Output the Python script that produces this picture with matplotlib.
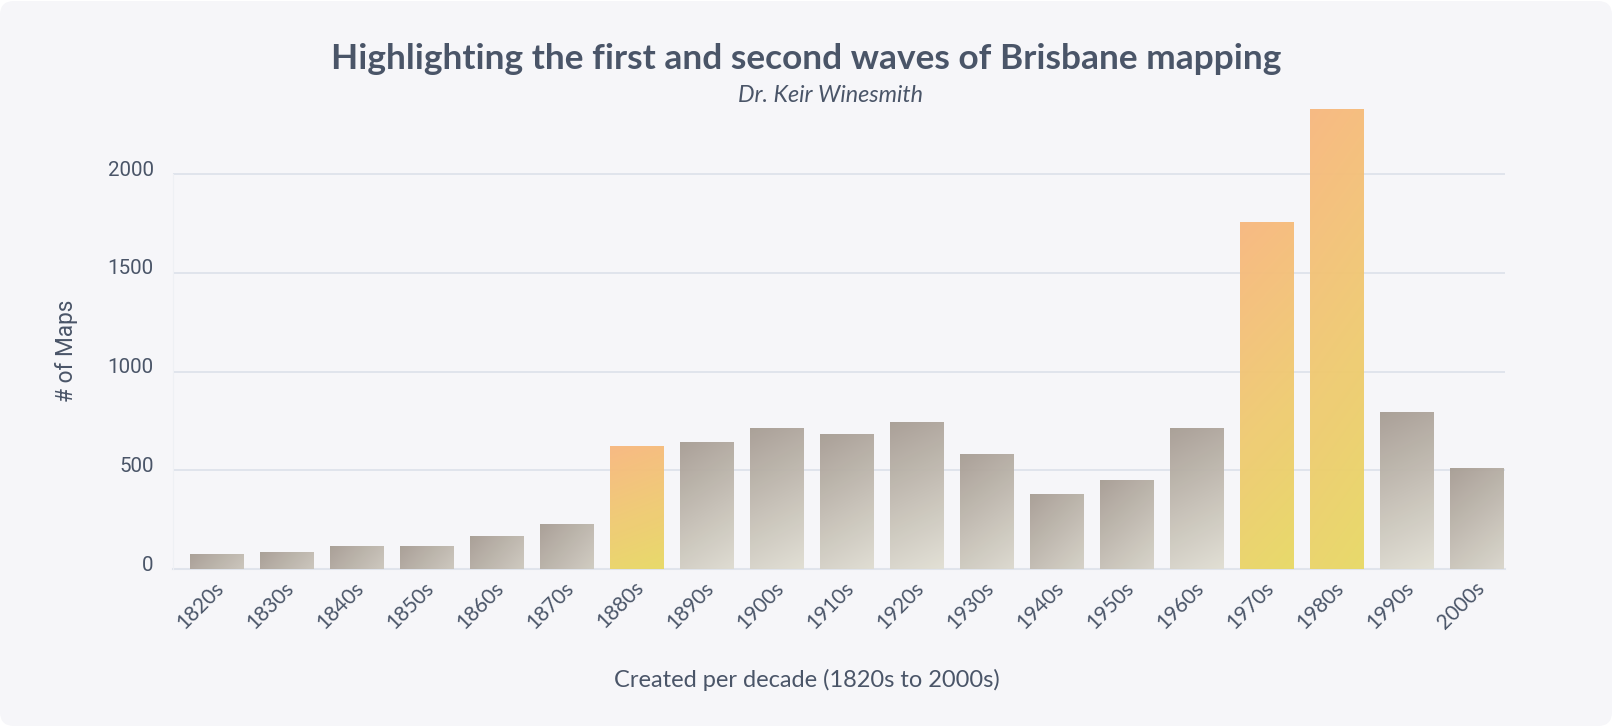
import numpy as np
import matplotlib
matplotlib.use("Agg")
import matplotlib.pyplot as plt
from matplotlib.colors import to_rgb
from matplotlib.patches import FancyBboxPatch
from matplotlib.transforms import Affine2D, ScaledTranslation

decades = ["1820s", "1830s", "1840s", "1850s", "1860s", "1870s", "1880s",
           "1890s", "1900s", "1910s", "1920s", "1930s", "1940s", "1950s",
           "1960s", "1970s", "1980s", "1990s", "2000s"]
maps = [75, 85, 116, 116, 167, 228, 622, 643, 714, 683, 744, 582,
        382, 450, 714, 1755, 2329, 794, 511]
highlighted = ["1880s", "1970s", "1980s"]
y_ticks = [0, 500, 1000, 1500, 2000]

W, H = 1612, 726
TEXT = "#4a5568"
GRID = "#e0e4ec"
PX_PER_MAP = 0.1976

fig = plt.figure(figsize=(W / 100, H / 100), dpi=100, facecolor="white")

# rounded card behind everything
card = FancyBboxPatch((0, 0), W, H - 1, boxstyle="round,pad=0,rounding_size=14",
                      transform=Affine2D(), fc="#f6f6f9", ec="none", zorder=-5)
fig.add_artist(card)

left, right, top, bottom = 173, 1505, 109, 569.2
ax = fig.add_axes([left / W, 1 - bottom / H, (right - left) / W, (bottom - top) / H])
ax.patch.set_alpha(0)

y_top = (bottom - top) / PX_PER_MAP


def bar_gradient(hi, h_px):
    # colour ramp runs diagonal, flatter on short bars
    if hi:
        c0, c1 = to_rgb("#f8b87f"), to_rgb("#e8d965")
        s = 1.0
    else:
        c0, c1 = to_rgb("#a79d94"), to_rgb("#e2e0d5")
        s = min(1.0, h_px / 150)
    a = 0.50 - 0.36 * s
    b = 0.04 + 0.82 * s
    u, v = np.meshgrid(np.linspace(0, 1, 54), np.linspace(0, 1, max(int(h_px), 2)))
    t = np.clip(a * u + b * v, 0, 1)[..., None]
    rgb = np.array(c0) * (1 - t) + np.array(c1) * t
    alpha = np.full(t.shape, 0.96)
    return np.concatenate([rgb, alpha], axis=2)


x = np.arange(len(decades))
bars = ax.bar(x, maps, width=54 / 70, color="none", edgecolor="none", zorder=3)
for rect, name, val in zip(bars, decades, maps):
    img = bar_gradient(name in highlighted, val * PX_PER_MAP)
    im = ax.imshow(img, extent=(rect.get_x(), rect.get_x() + rect.get_width(), 0, val),
                   origin="upper", aspect="auto", interpolation="bilinear", zorder=3)
    im.set_clip_path(rect)
ax.set_xlim((173 - 217) / 70, (1505 - 217) / 70)
ax.set_ylim(0, y_top)

ax.set_axisbelow(True)
ax.yaxis.grid(True, color=GRID, lw=1.4)
ax.xaxis.grid(False)
for side in ["top", "right", "bottom"]:
    ax.spines[side].set_visible(False)
ax.spines["left"].set_color("#eef0f4")
ax.spines["left"].set_linewidth(0.8)
ax.spines["left"].set_bounds(0, 2000)
ax.axhline(0, color=GRID, lw=1.5, zorder=2, clip_on=False)

ax.set_yticks(y_ticks)
ax.set_yticklabels([str(v) for v in y_ticks], family="Roboto", fontsize=14.8, color=TEXT)
ax.tick_params(axis="y", length=0, pad=14)
offset_y = ScaledTranslation(0, 6 / 100, fig.dpi_scale_trans)
for lab in ax.get_yticklabels():
    lab.set_transform(lab.get_transform() + offset_y)

ax.set_xticks(x)
ax.set_xticklabels(decades, rotation=45, ha="right", rotation_mode="anchor",
                   family="Lato", fontsize=15, color=TEXT)
ax.tick_params(axis="x", length=0, pad=6)
offset_x = ScaledTranslation(-3 / 100, 0, fig.dpi_scale_trans)
for lab in ax.get_xticklabels():
    lab.set_transform(lab.get_transform() + offset_x)

fig.text(806 / W, 1 - 59 / H, "Highlighting the first and second waves of Brisbane mapping",
         family="Lato", weight="bold", fontsize=25.4, color=TEXT, ha="center", va="center")
fig.text(830 / W, 1 - 95 / H, "Dr. Keir Winesmith", family="Lato", style="italic",
         fontsize=16.8, color=TEXT, ha="center", va="center")
fig.text(807 / W, 1 - 680 / H, "Created per decade (1820s to 2000s)", family="Lato",
         fontsize=17, color=TEXT, ha="center", va="center")
fig.text(66 / W, 1 - 351 / H, "# of Maps", family="Roboto", fontsize=16.3, color=TEXT,
         rotation=90, ha="center", va="center")

fig.savefig("out.png", dpi=100, facecolor="white")
